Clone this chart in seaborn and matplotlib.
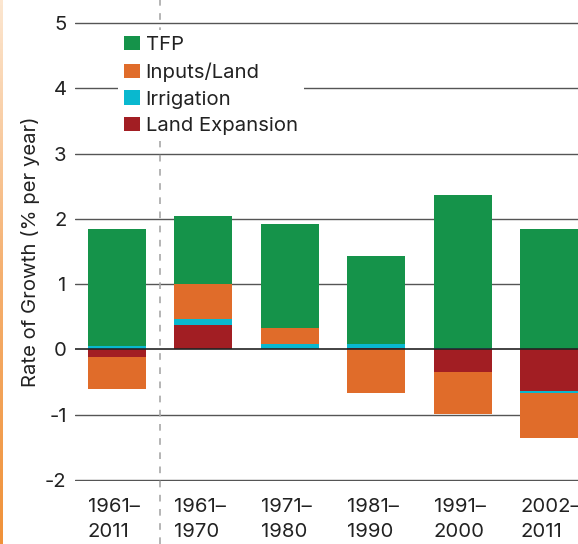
import numpy as np
import matplotlib
matplotlib.use("Agg")
import matplotlib.pyplot as plt
import seaborn as sns
from matplotlib.patches import Patch
from matplotlib.colors import LinearSegmentedColormap

# ---------------- data ----------------
periods = ["1961–\n2011", "1961–\n1970", "1971–\n1980",
           "1981–\n1990", "1991–\n2000", "2002–\n2011"]
tfp = [1.79, 1.04, 1.59, 1.345, 2.35, 1.845]
inputs_land = [-0.49, 0.53, 0.25, -0.66, -0.645, -0.69]
irrigation = [0.058, 0.095, 0.085, 0.06, 0.02, -0.03]
land_expansion = [-0.11, 0.375, 0.0, 0.025, -0.345, -0.63]
y_ticks = [-2, -1, 0, 1, 2, 3, 4, 5]
y_tick_labels = ["-2", "-1", "0", "1", "2", "3", "4", "5"]

GREEN = "#15934A"
ORANGE = "#E06C2A"
CYAN = "#09B8CF"
RED = "#A21E23"
TEXT = "#222222"

FONT = ["Inter", "DejaVu Sans"]
FS = 14.6

sns.set_theme(style="white")
plt.rcParams["font.family"] = FONT
plt.rcParams["axes.unicode_minus"] = False

W, H = 578, 544
fig = plt.figure(figsize=(W / 100, H / 100), dpi=100)
ax = fig.add_axes([75 / W, 1 - 481.3 / H, 503 / W, 459.6 / H])

# stacking order from zero outward
series = [("Land Expansion", land_expansion, RED),
          ("Irrigation", irrigation, CYAN),
          ("Inputs/Land", inputs_land, ORANGE),
          ("TFP", tfp, GREEN)]
pos_cum = np.zeros(len(periods))
neg_cum = np.zeros(len(periods))
cums = []
for name, vals, col in series:
    v = np.asarray(vals, dtype=float)
    pos_cum = pos_cum + np.clip(v, 0, None)
    neg_cum = neg_cum + np.clip(v, None, 0)
    cums.append((name, pos_cum.copy(), neg_cum.copy(), col))

for name, pc, nc, col in reversed(cums):
    for vals in (pc, nc):
        sns.barplot(x=periods, y=vals, order=periods, color=col, width=0.67,
                    saturation=1, linewidth=0, errorbar=None, ax=ax, zorder=2)

ax.set_xlim(-0.485, 5.335)
ax.set_ylim(-2.02, 5.02)
for s in ax.spines.values():
    s.set_visible(False)

# gridlines
for yv in y_ticks:
    if yv == 0:
        ax.axhline(0, color="#222222", lw=1.2, zorder=3)
    else:
        ax.axhline(yv, color="#555555", lw=1.0, zorder=1)

ax.set_yticks(y_ticks, y_tick_labels)
ax.tick_params(axis="y", length=0, pad=6, labelsize=FS, labelcolor=TEXT)

# category labels left-aligned with the left edge of each bar
xpos = [i - 0.335 for i in range(len(periods))]
ax.set_xticks(xpos, periods, ha="left", linespacing=1.5)
ax.tick_params(axis="x", length=0, pad=12, labelsize=FS, labelcolor=TEXT)
ax.set_xlabel("")

ax.set_ylabel("Rate of Growth (% per year)", fontsize=FS, color=TEXT)
ax.yaxis.set_label_coords(-0.0696, 0.5)

# dashed separator
ax.axvline(0.5, ymin=-0.137, ymax=1.05, clip_on=False, color="#A8A8A8",
           lw=1.2, ls=(0, (4, 4.5)), zorder=1)

# legend (row pitch ~26.5 px)
renderer = fig.canvas.get_renderer()
probe = fig.text(0, 0, "Land Expansion", fontsize=FS)
text_h = probe.get_window_extent(renderer).height
probe.remove()
fs_px = FS * 100 / 72
lab_sp = max((26.3 - text_h) / fs_px, 0.0)

handles = [Patch(facecolor=GREEN, edgecolor="none", label="TFP"),
           Patch(facecolor=ORANGE, edgecolor="none", label="Inputs/Land"),
           Patch(facecolor=CYAN, edgecolor="none", label="Irrigation"),
           Patch(facecolor=RED, edgecolor="none", label="Land Expansion")]
leg = ax.legend(handles=handles, loc="upper left",
                bbox_to_anchor=(118 / W, 1 - 30 / H),
                bbox_transform=fig.transFigure, fontsize=FS, frameon=True,
                facecolor="white", edgecolor="none", framealpha=1,
                fancybox=False, handlelength=0.78, handleheight=0.71,
                handletextpad=0.28, labelspacing=lab_sp, borderpad=0.3,
                borderaxespad=0)
for t in leg.get_texts():
    t.set_color(TEXT)
leg.set_zorder(5)

# thin orange page edge at left
edge = fig.add_axes([0, 0, 2.5 / W, 1])
cmap = LinearSegmentedColormap.from_list("edge", ["#FCE6D0", "#F5B070", "#F0923A"])
edge.imshow(np.linspace(0, 1, 100).reshape(-1, 1), aspect="auto", cmap=cmap)
edge.axis("off")

fig.savefig("out.png", dpi=100)
